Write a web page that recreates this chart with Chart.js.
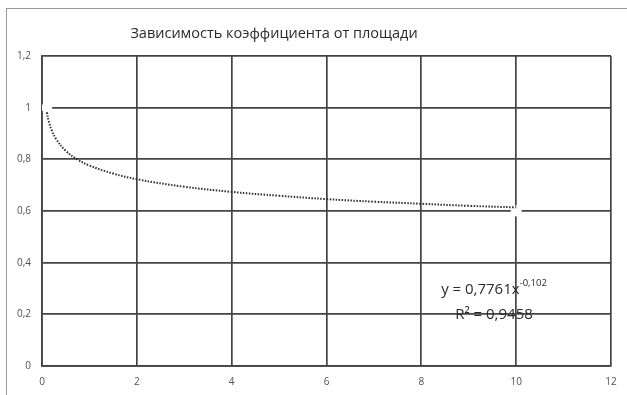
<!DOCTYPE html>
<html>
<head>
<meta charset="utf-8">
<script src="https://cdn.jsdelivr.net/npm/chart.js@4/dist/chart.umd.min.js"></script>
<style>
  html, body { margin: 0; padding: 0; background: #fff; }
  #wrap { width: 627px; height: 395px; }
</style>
</head>
<body>
<div id="wrap"><canvas id="c" width="627" height="395"></canvas></div>
<script>
// Measured points (area vs. coefficient)
const areaX = [0.1, 10];
const coefY = [1.0, 0.6];

// Power trend line points
const trendX = [0.1, 0.15, 0.2, 0.3, 0.5, 0.75, 1, 1.5, 2, 3, 4, 5, 6, 7, 8, 9, 10];
const trendY = [0.982, 0.942, 0.915, 0.878, 0.833, 0.799, 0.776, 0.745, 0.723, 0.694, 0.674, 0.659, 0.646, 0.636, 0.628, 0.620, 0.614];

const titleText = 'Зависимость коэффициента от площади';
const eqMain = 'y = 0,7761x';
const eqExp = '-0,102';
const r2Text = 'R² = 0,9458';

const fmt = v => String(Math.round(v * 10) / 10).replace('.', ',');

const frame = {
  id: 'frame',
  beforeDraw(chart) {
    const ctx = chart.ctx;
    ctx.save();
    ctx.fillStyle = '#fff';
    ctx.fillRect(0, 0, chart.width, chart.height);
    ctx.strokeStyle = '#9a9a9a';
    ctx.lineWidth = 1;
    ctx.strokeRect(6.5, 8.5, 700, 500);
    ctx.fillStyle = '#2a2a2a';
    ctx.font = '14.5px "Open Sans", sans-serif';
    ctx.textAlign = 'center';
    ctx.textBaseline = 'middle';
    ctx.fillText(titleText, 274, 34);
    ctx.restore();
  },
  afterDraw(chart) {
    const ctx = chart.ctx;
    ctx.save();
    ctx.fillStyle = '#2a2a2a';
    ctx.textBaseline = 'alphabetic';
    ctx.font = '15px "Open Sans", sans-serif';
    const w1 = ctx.measureText(eqMain).width;
    ctx.font = '9.5px "Open Sans", sans-serif';
    const w2 = ctx.measureText(eqExp).width;
    const x0 = 494 - (w1 + w2) / 2;
    ctx.font = '15px "Open Sans", sans-serif';
    ctx.textAlign = 'left';
    ctx.fillText(eqMain, x0, 294);
    ctx.font = '9.5px "Open Sans", sans-serif';
    ctx.fillText(eqExp, x0 + w1, 286);
    ctx.font = '15px "Open Sans", sans-serif';
    ctx.textAlign = 'center';
    ctx.fillText(r2Text, 494, 319);
    ctx.restore();
  }
};

new Chart(document.getElementById('c'), {
  type: 'scatter',
  data: {
    datasets: [
      {
        label: 'Тренд',
        data: trendX.map((x, i) => ({ x, y: trendY[i] })),
        showLine: true,
        borderColor: '#303030',
        borderWidth: 2,
        borderDash: [1.5, 1.5],
        pointRadius: 0,
        tension: 0.4,
        order: 1
      },
      {
        label: 'Коэффициент',
        data: areaX.map((x, i) => ({ x, y: coefY[i] })),
        showLine: false,
        pointRadius: 5,
        pointBackgroundColor: '#fff',
        pointBorderColor: '#fff',
        pointBorderWidth: 1,
        order: 2
      }
    ]
  },
  options: {
    responsive: false,
    animation: false,
    devicePixelRatio: 1,
    layout: { padding: { left: 0, top: 56, right: 16, bottom: 0 } },
    plugins: { legend: { display: false }, tooltip: { enabled: false }, title: { display: false } },
    scales: {
      x: {
        type: 'linear', min: 0, max: 12,
        afterFit: s => { s.height = 29; },
        ticks: { stepSize: 2, color: '#505050', font: { size: 10, family: '"Open Sans", sans-serif' }, padding: 10, callback: fmt },
        grid: { color: '#444', lineWidth: 1.7, drawTicks: false },
        border: { color: '#444', width: 1.7 }
      },
      y: {
        type: 'linear', min: 0, max: 1.2,
        afterFit: s => { s.width = 42; },
        ticks: { stepSize: 0.2, color: '#505050', font: { size: 10, family: '"Open Sans", sans-serif' }, padding: 11, callback: fmt },
        grid: { color: '#444', lineWidth: 1.7, drawTicks: false },
        border: { color: '#444', width: 1.7 }
      }
    }
  },
  plugins: [frame]
});
</script>
</body>
</html>
